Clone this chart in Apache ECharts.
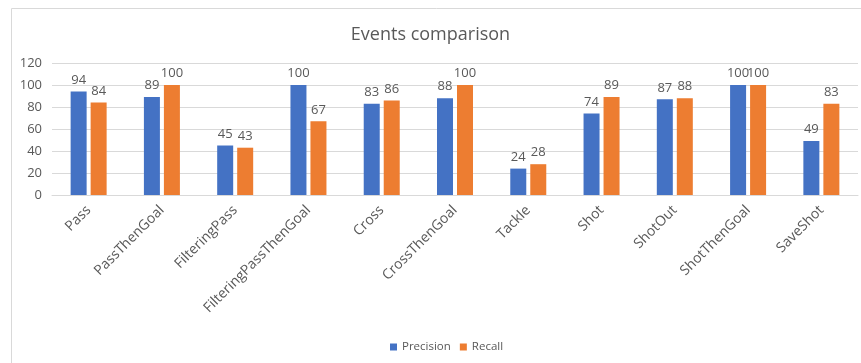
<!DOCTYPE html>
<html>
<head>
<meta charset="utf-8">
<script src="https://cdn.jsdelivr.net/npm/echarts@6/dist/echarts.min.js"></script>
<style>
  html, body { margin: 0; padding: 0; background: #fff; }
  #chart { width: 861px; height: 363px; }
</style>
</head>
<body>
<div id="chart"></div>
<script>
// Event categories and the two scores per event
const categories = ['Pass', 'PassThenGoal', 'FilteringPass', 'FilteringPassThenGoal', 'Cross',
  'CrossThenGoal', 'Tackle', 'Shot', 'ShotOut', 'ShotThenGoal', 'SaveShot'];
const precision = [94, 89, 45, 100, 83, 88, 24, 74, 87, 100, 49];
const recall = [84, 100, 43, 67, 86, 100, 28, 89, 88, 100, 83];
const yTicks = { min: 0, max: 120, interval: 20 };

const FONT = 'Open Sans';
const TEXT = '#595959';
const LINE = '#d9d9d9';

const chart = echarts.init(document.getElementById('chart'));

const labelStyle = { show: true, position: 'top', distance: 5, color: TEXT, fontSize: 13, fontFamily: FONT };

chart.setOption({
  animation: false,
  textStyle: { fontFamily: FONT },
  graphic: [{
    type: 'rect',
    shape: { x: 11.5, y: 8.5, width: 900, height: 400 },
    style: { fill: 'none', stroke: LINE, lineWidth: 1 },
    silent: true
  }],
  title: {
    text: 'Events comparison',
    left: 'center',
    top: 21,
    textStyle: { color: TEXT, fontSize: 18, fontWeight: 'normal', fontFamily: FONT }
  },
  legend: {
    bottom: 5,
    left: 385,
    itemWidth: 7,
    itemHeight: 7,
    itemGap: 9,
    icon: 'rect',
    textStyle: { color: TEXT, fontSize: 11.5, fontFamily: FONT },
    data: ['Precision', 'Recall']
  },
  grid: { left: 52, right: 3, top: 63, bottom: 168, containLabel: false },
  xAxis: {
    type: 'category',
    data: categories,
    axisLine: { lineStyle: { color: LINE } },
    axisTick: { show: false },
    axisLabel: { interval: 0, rotate: 45, color: TEXT, fontSize: 14, fontFamily: FONT, margin: 13 }
  },
  yAxis: {
    type: 'value',
    min: yTicks.min,
    max: yTicks.max,
    interval: yTicks.interval,
    axisLine: { show: false },
    axisTick: { show: false },
    splitLine: { lineStyle: { color: LINE } },
    axisLabel: { color: TEXT, fontSize: 13, fontFamily: FONT, margin: 10 }
  },
  series: [
    {
      name: 'Precision',
      type: 'bar',
      data: precision,
      barWidth: 16,
      barGap: '25%',
      itemStyle: { color: '#4472c4' },
      label: labelStyle
    },
    {
      name: 'Recall',
      type: 'bar',
      data: recall,
      barWidth: 16,
      itemStyle: { color: '#ed7d31' },
      label: labelStyle
    }
  ]
});
</script>
</body>
</html>
